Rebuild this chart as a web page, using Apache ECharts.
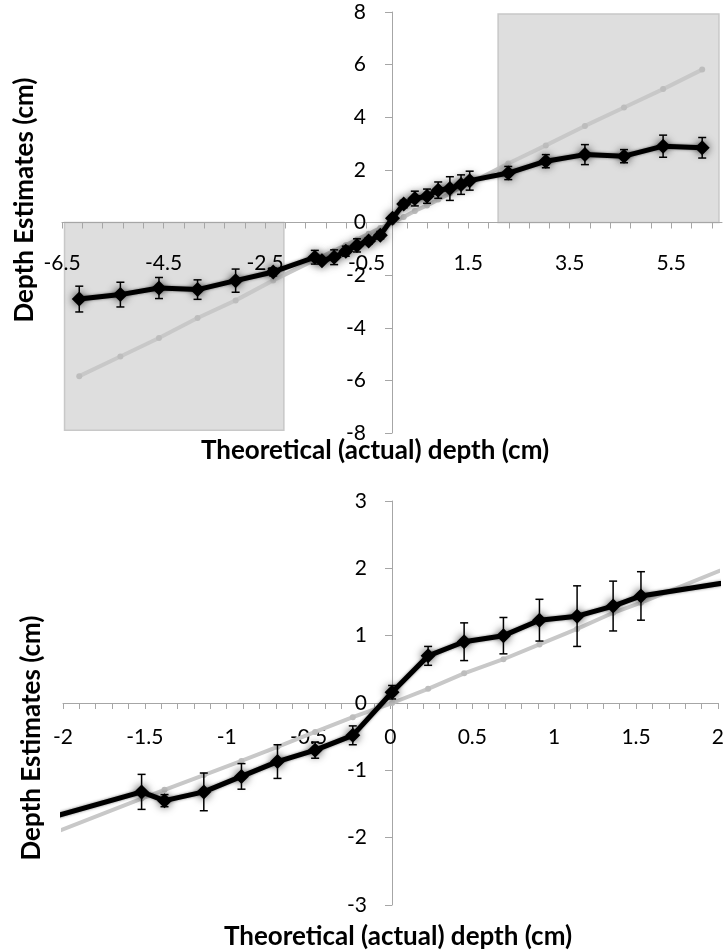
<!DOCTYPE html>
<html>
<head>
<meta charset="utf-8">
<script src="https://cdn.jsdelivr.net/npm/echarts@6/dist/echarts.min.js"></script>
<style>
  html, body { margin: 0; padding: 0; background: #ffffff; }
  #chart { width: 727px; height: 951px; }
</style>
</head>
<body>
<div id="chart"></div>
<script>
// ---- data ----
const theoretical = [-6.16, -5.35, -4.59, -3.83, -3.08, -2.34, -1.52, -1.38, -1.14, -0.91, -0.69, -0.46, -0.23,
                      0.01, 0.23, 0.45, 0.69, 0.91, 1.14, 1.36, 1.53, 2.29, 3.03, 3.80, 4.57, 5.34, 6.11];
const estimates   = [-2.91, -2.74, -2.49, -2.55, -2.21, -1.88, -1.32, -1.45, -1.32, -1.09, -0.87, -0.70, -0.48,
                      0.16, 0.70, 0.91, 1.00, 1.23, 1.29, 1.44, 1.59, 1.88, 2.33, 2.58, 2.52, 2.90, 2.84];
const errors      = [0.49, 0.47, 0.40, 0.37, 0.44, 0.15, 0.26, 0.09, 0.28, 0.19, 0.25, 0.12, 0.14,
                      0.10, 0.14, 0.28, 0.27, 0.31, 0.45, 0.37, 0.36, 0.25, 0.25, 0.38, 0.25, 0.42, 0.39];
const actual      = [-5.84, -5.09, -4.39, -3.63, -2.96, -2.20, -1.42, -1.29, -1.07, -0.86, -0.65, -0.43, -0.21,
                      0.00, 0.21, 0.44, 0.65, 0.87, 1.10, 1.34, 1.49, 2.24, 2.93, 3.67, 4.37, 5.07, 5.81];

// shaded regions in the top panel: [xFrom, yFrom, xTo, yTo]
const shadeLeft  = [-6.45, -7.9, -2.13, 0];
const shadeRight = [2.09, 0, 6.44, 7.92];

// axis labels / ranges
const topXLabels    = [-6.5, -4.5, -2.5, -0.5, 1.5, 3.5, 5.5];
const topXTickStep  = 0.4;
const topXRange     = [-6.5, 6.5];
const topYRange     = [-8, 8];
const topYStep      = 2;
const botXLabels    = [-2, -1.5, -1, -0.5, 0, 0.5, 1, 1.5, 2];
const botXTickStep  = 0.1;
const botXRange     = [-2, 2];
const botYRange     = [-3, 3];
const botYStep      = 1;

const xTitle = 'Theoretical (actual) depth (cm)';
const yTitle = 'Depth Estimates (cm)';

// ---- layout ----
const grids = [
  { left: 62, width: 660, top: 12, height: 421 },
  { left: 63, width: 658, top: 501, height: 404 }
];
// pixel offset that brings an axis from the grid edge to the zero line of the other axis
function zeroOffsetX(g, range) { return -g.width * (0 - range[0]) / (range[1] - range[0]); }
function zeroOffsetY(g, range) { return -g.height * (0 - range[0]) / (range[1] - range[0]); }

// ---- helpers ----
function tickList(from, to, step) {
  const out = [];
  for (let v = from; v <= to + 1e-9; v += step) out.push(Math.round(v * 1000) / 1000);
  return out;
}
const estPts = theoretical.map((x, i) => [x, estimates[i]]);
const actPts = theoretical.map((x, i) => [x, actual[i]]);
const errPts = theoretical.map((x, i) => [x, estimates[i] - errors[i], estimates[i] + errors[i]]);

const FONT = 'Lato, "Open Sans", "Noto Sans", sans-serif';
const AXIS_COLOR = '#a6a6a6';

function errorBarRender(params, api) {
  const x = api.value(0);
  const lo = api.coord([x, api.value(1)]);
  const hi = api.coord([x, api.value(2)]);
  const cap = 4;
  const st = { stroke: '#000', lineWidth: 1.5 };
  return {
    type: 'group',
    children: [
      { type: 'line', shape: { x1: lo[0], y1: lo[1], x2: hi[0], y2: hi[1] }, style: st },
      { type: 'line', shape: { x1: lo[0] - cap, y1: lo[1], x2: lo[0] + cap, y2: lo[1] }, style: st },
      { type: 'line', shape: { x1: hi[0] - cap, y1: hi[1], x2: hi[0] + cap, y2: hi[1] }, style: st }
    ]
  };
}

function xAxisDef(gridIndex, range, yRange, labels, ticks, margin) {
  return {
    type: 'value', gridIndex: gridIndex, min: range[0], max: range[1],
    position: 'bottom', offset: zeroOffsetY(grids[gridIndex], yRange),
    z: 2,
    axisLine: { onZero: false, lineStyle: { color: AXIS_COLOR, width: 1 } },
    axisTick: { show: true, customValues: ticks, length: 6, lineStyle: { color: AXIS_COLOR } },
    axisLabel: { customValues: labels, margin: margin, color: '#000', fontSize: 21, fontFamily: FONT, hideOverlap: false },
    splitLine: { show: false }
  };
}
function yAxisDef(gridIndex, range, xRange, step, margin) {
  return {
    type: 'value', gridIndex: gridIndex, min: range[0], max: range[1], interval: step,
    position: 'left', offset: zeroOffsetX(grids[gridIndex], xRange),
    z: 2,
    axisLine: { show: true, onZero: false, lineStyle: { color: AXIS_COLOR, width: 1 } },
    axisTick: { show: true, length: 7, lineStyle: { color: AXIS_COLOR } },
    axisLabel: { margin: margin, color: '#000', fontSize: 21, fontFamily: FONT, hideOverlap: false },
    splitLine: { show: false }
  };
}

function panelSeries(idx, withShade) {
  const s = [];
  if (withShade) {
    s.push({
      type: 'line', xAxisIndex: idx, yAxisIndex: idx, data: [], z: 1, silent: true,
      markArea: {
        silent: true,
        itemStyle: { color: '#dedede', borderColor: '#c8c8c8', borderWidth: 1.5 },
        data: [
          [{ coord: [shadeLeft[0], shadeLeft[1]] }, { coord: [shadeLeft[2], shadeLeft[3]] }],
          [{ coord: [shadeRight[0], shadeRight[1]] }, { coord: [shadeRight[2], shadeRight[3]] }]
        ]
      }
    });
  }
  s.push({
    name: 'Theoretical', type: 'line', xAxisIndex: idx, yAxisIndex: idx, data: actPts, z: 3,
    symbol: 'circle', symbolSize: 6, showSymbol: true, clip: true,
    lineStyle: { color: '#c8c8c8', width: 4 },
    itemStyle: { color: '#bdbdbd' }
  });
  s.push({
    name: 'Error', type: 'custom', xAxisIndex: idx, yAxisIndex: idx, data: errPts, z: 4, clip: true,
    renderItem: errorBarRender, encode: { x: 0, y: [1, 2] }
  });
  s.push({
    name: 'Estimates', type: 'line', xAxisIndex: idx, yAxisIndex: idx, data: estPts, z: 5,
    symbol: 'diamond', symbolSize: 15, showSymbol: true, clip: true,
    lineStyle: { color: '#000', width: 5, shadowBlur: 3, shadowColor: 'rgba(0,0,0,0.5)' },
    itemStyle: { color: '#000', shadowBlur: 8, shadowColor: 'rgba(0,0,0,0.75)' }
  });
  return s;
}

const TITLE_FONT = 'bold 26px Lato, "Open Sans", "Noto Sans", sans-serif';

const option = {
  animation: false,
  backgroundColor: '#ffffff',
  grid: grids,
  xAxis: [
    xAxisDef(0, topXRange, topYRange, topXLabels, tickList(topXRange[0], topXRange[1], topXTickStep), 30),
    xAxisDef(1, botXRange, botYRange, botXLabels, tickList(botXRange[0], botXRange[1], botXTickStep), 24)
  ],
  yAxis: [
    yAxisDef(0, topYRange, topXRange, topYStep, 26),
    yAxisDef(1, botYRange, botXRange, botYStep, 25)
  ],
  series: [].concat(panelSeries(0, true), panelSeries(1, false)),
  graphic: [
    { type: 'text', x: 25, y: 200, rotation: Math.PI / 2, z: 10,
      style: { text: yTitle, x: 0, y: 0, align: 'center', verticalAlign: 'middle', font: TITLE_FONT, fill: '#000' } },
    { type: 'text', x: 375, y: 451, z: 10,
      style: { text: xTitle, x: 0, y: 0, align: 'center', verticalAlign: 'middle', font: TITLE_FONT, fill: '#000' } },
    { type: 'text', x: 32, y: 738, rotation: Math.PI / 2, z: 10,
      style: { text: yTitle, x: 0, y: 0, align: 'center', verticalAlign: 'middle', font: TITLE_FONT, fill: '#000' } },
    { type: 'text', x: 398, y: 937, z: 10,
      style: { text: xTitle, x: 0, y: 0, align: 'center', verticalAlign: 'middle', font: TITLE_FONT, fill: '#000' } }
  ]
};

const chart = echarts.init(document.getElementById('chart'), null, { renderer: 'canvas' });
chart.setOption(option);
</script>
</body>
</html>
